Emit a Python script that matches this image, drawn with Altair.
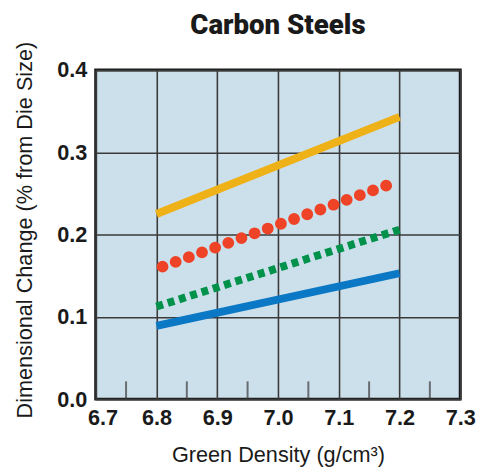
import altair as alt
import pandas as pd

# Data
series = ["orange", "red", "green", "blue"]
x_start = [6.80, 6.81, 6.80, 6.80]
x_end = [7.20, 7.18, 7.20, 7.20]
y_start = [0.225, 0.161, 0.1125, 0.089]
y_end = [0.343, 0.260, 0.206, 0.153]
colors = ["#efb118", "#ee4327", "#00914b", "#0a78c4"]

x_ticks = [6.7, 6.8, 6.9, 7.0, 7.1, 7.2, 7.3]
y_ticks = [0.0, 0.1, 0.2, 0.3, 0.4]
minor_ticks = [6.75, 6.85, 6.95, 7.05, 7.15, 7.25]

rows = []
for s, x0, x1, y0, y1 in zip(series, x_start, x_end, y_start, y_end):
    rows.append({"series": s, "density": x0, "change": y0})
    rows.append({"series": s, "density": x1, "change": y1})
df = pd.DataFrame(rows)
minor_df = pd.DataFrame({"density": minor_ticks})

xscale = alt.Scale(domain=[6.7, 7.3], nice=False, zero=False)
yscale = alt.Scale(domain=[0.0, 0.4], nice=False)

xenc = alt.X("density:Q", scale=xscale,
             axis=alt.Axis(values=x_ticks, format=".1f", title="Green Density (g/cm³)",
                           grid=True, gridColor="#3a3a3a", gridWidth=1.6, gridOpacity=1,
                           domain=False, ticks=False, labelFlush=False,
                           labelOffset={"condition": {"test": "datum.value <= 6.7", "value": 7}, "value": 0},
                           labelFont="Liberation Sans", labelFontWeight="bold", labelFontSize=22,
                           labelColor="#1a1a1a", labelPadding=9,
                           titleFont="Liberation Sans", titleFontWeight="normal", titleFontSize=22,
                           titleColor="#1a1a1a", titlePadding=16))
yenc = alt.Y("change:Q", scale=yscale,
             axis=alt.Axis(values=y_ticks, format=".1f", title="Dimensional Change (% from Die Size)",
                           grid=True, gridColor="#3a3a3a", gridWidth=1.6, gridOpacity=1,
                           domain=False, ticks=False,
                           labelFont="Liberation Sans", labelFontWeight="bold", labelFontSize=22,
                           labelColor="#1a1a1a", labelPadding=9,
                           titleFont="Liberation Sans", titleFontWeight="normal", titleFontSize=22,
                           titleColor="#1a1a1a", titleX=-72, titleY=162, titleAngle=270,
                           titleBaseline="middle", titleAlign="center"))

base = alt.Chart(df)

def sel(s):
    return alt.datum.series == s

orange = base.transform_filter(sel("orange")).mark_line(
    color=colors[0], strokeWidth=8, strokeCap="butt").encode(x=xenc, y=yenc)
red = base.transform_filter(sel("red")).mark_line(
    color=colors[1], strokeWidth=12, strokeCap="round", strokeDash=[0, 14.2]).encode(x=xenc, y=yenc)
green = base.transform_filter(sel("green")).mark_line(
    color=colors[2], strokeWidth=8, strokeCap="butt", strokeDash=[7, 5]).encode(x=xenc, y=yenc)
blue = base.transform_filter(sel("blue")).mark_line(
    color=colors[3], strokeWidth=8, strokeCap="butt").encode(x=xenc, y=yenc)

minor = alt.Chart(minor_df).mark_tick(
    orient="vertical", size=18, thickness=2, color="#3a3a3a", yOffset=-9
).encode(x=alt.X("density:Q", scale=xscale), y=alt.Y(datum=0))

chart = alt.layer(minor, orange, red, green, blue).properties(
    width=370, height=334,
    title=alt.TitleParams("Carbon Steels", font="Liberation Sans Narrow, Roboto, sans-serif",
                          fontSize=28, fontWeight=900, color="#1a1a1a", anchor="middle",
                          offset=1),
    padding={"left": 89, "top": 59.5, "right": 16, "bottom": 70},
    autosize="none",
).configure_view(
    fill="#cce0eb", stroke="#1a1a1a", strokeWidth=3
)

chart.save("out.html", embed_options={"renderer": "svg", "actions": False})
